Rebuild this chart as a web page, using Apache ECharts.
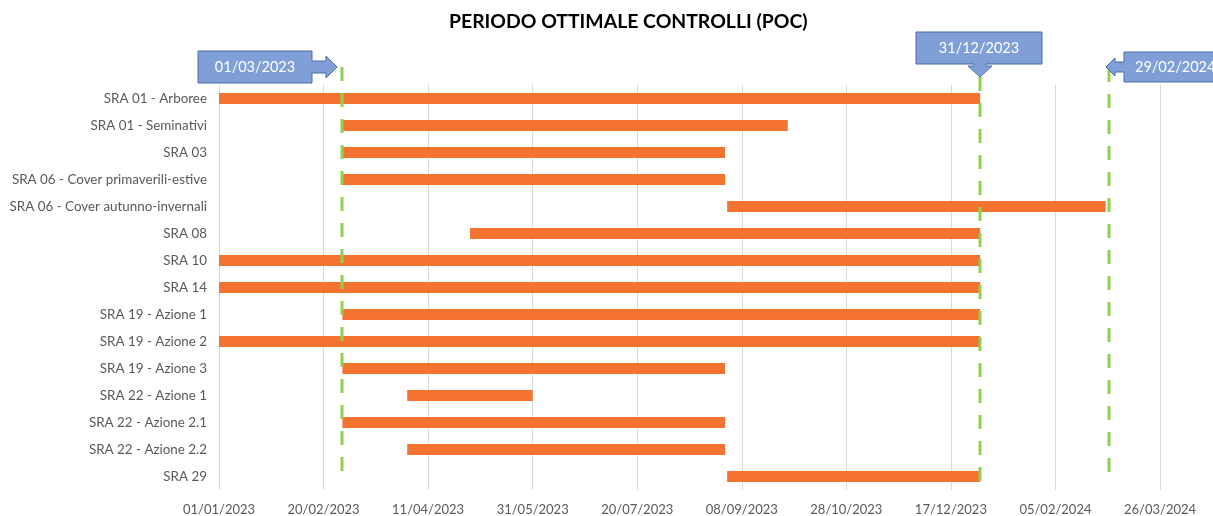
<!DOCTYPE html>
<html>
<head>
<meta charset="utf-8">
<script src="https://cdn.jsdelivr.net/npm/echarts@6/dist/echarts.min.js"></script>
<style>html,body{margin:0;padding:0;background:#fff}#c{width:1213px;height:516px}</style>
</head>
<body>
<div id="c"></div>
<script>
// ---- data ----
const categories = [
  'SRA 01 - Arboree',
  'SRA 01 - Seminativi',
  'SRA 03',
  'SRA 06 - Cover primaverili-estive',
  'SRA 06 - Cover autunno-invernali',
  'SRA 08',
  'SRA 10',
  'SRA 14',
  'SRA 19 - Azione 1',
  'SRA 19 - Azione 2',
  'SRA 19 - Azione 3',
  'SRA 22 - Azione 1',
  'SRA 22 - Azione 2.1',
  'SRA 22 - Azione 2.2',
  'SRA 29'
];
const startDates = [
  '2023-01-01','2023-03-01','2023-03-01','2023-03-01','2023-09-01',
  '2023-05-01','2023-01-01','2023-01-01','2023-03-01','2023-01-01',
  '2023-03-01','2023-04-01','2023-03-01','2023-04-01','2023-09-01'
];
const endDates = [
  '2023-12-31','2023-09-30','2023-08-31','2023-08-31','2024-02-29',
  '2023-12-31','2023-12-31','2023-12-31','2023-12-31','2023-12-31',
  '2023-08-31','2023-05-31','2023-08-31','2023-08-31','2023-12-31'
];
const markerDates = ['2023-03-01','2023-12-31','2024-02-29'];
const markerLabels = ['01/03/2023','31/12/2023','29/02/2024'];
const axisStart = '2023-01-01';
const axisEnd = '2024-03-26';
const tickStepDays = 50;

// ---- helpers ----
const DAY = 86400000;
function toUTC(s){const p=s.split('-').map(Number);return Date.UTC(p[0],p[1]-1,p[2]);}
const base = toUTC(axisStart);
function dayOf(s){return Math.round((toUTC(s)-base)/DAY);}
function fmt(v){const d=new Date(base+v*DAY);const dd=String(d.getUTCDate()).padStart(2,'0');const mm=String(d.getUTCMonth()+1).padStart(2,'0');return dd+'/'+mm+'/'+d.getUTCFullYear();}

const startVals = startDates.map(dayOf);
const durVals = endDates.map((e,i)=>dayOf(e)-startVals[i]);
const markerData = markerDates.map((d,i)=>[dayOf(d), 0, markerLabels[i]]);

const FONT = 'Lato';
const BOX_FILL = '#7F9FD6';
const BOX_STROKE = '#4A6DA7';

function renderMarker(params, api){
  const cs = params.coordSys;
  const x = Math.round(api.coord([api.value(0), 0])[0]);
  const label = markerLabels[params.dataIndex];
  const idx = params.dataIndex;
  const top = cs.y, bottom = cs.y + cs.height;
  let lineTop, pts, tx, ty, align;
  if (idx === 0) {
    const cy = top - 18;
    const bx0 = x - 144, bx1 = x - 30, hx = x - 16, tip = x - 5;
    pts = [[bx0,cy-16],[bx1,cy-16],[bx1,cy-6],[hx,cy-6],[hx,cy-11],[tip,cy],[hx,cy+11],[hx,cy+6],[bx1,cy+6],[bx1,cy+16],[bx0,cy+16]];
    tx = (bx0+bx1)/2; ty = cy; align='center';
    lineTop = top - 18;
  } else if (idx === 1) {
    const by0 = top - 53, by1 = top - 21, hy = top - 19, tip = top - 8;
    pts = [[x-64,by0],[x+62,by0],[x+62,by1],[x+6,by1],[x+6,hy],[x+12,hy],[x,tip],[x-12,hy],[x-6,hy],[x-6,by1],[x-64,by1]];
    tx = x - 1; ty = (by0+by1)/2; align='center';
    lineTop = tip;
  } else {
    const cy = top - 18;
    const tip = x, hx = x + 9, bx0 = x + 18, bx1 = x + 140;
    pts = [[tip,cy],[hx,cy-9],[hx,cy-5],[bx0,cy-5],[bx0,cy-15],[bx1,cy-15],[bx1,cy+15],[bx0,cy+15],[bx0,cy+5],[hx,cy+5],[hx,cy+9]];
    tx = bx0 + 11; ty = cy; align='left';
    lineTop = top - 17;
  }
  const lx = idx === 2 ? x + 3 : x;
  return {
    type: 'group',
    children: [
      {type:'line', shape:{x1:lx,y1:lineTop,x2:lx,y2:bottom-9}, style:{stroke:'#92D050',lineWidth:3,lineDash:[14,12]}},
      {type:'polygon', shape:{points:pts}, style:{fill:BOX_FILL,stroke:BOX_STROKE,lineWidth:1}},
      {type:'text', style:{x:tx,y:ty,text:label,fill:'#fff',font:'14.5px '+FONT,align:align,verticalAlign:'middle'}}
    ]
  };
}

const chart = echarts.init(document.getElementById('c'), null, {renderer:'canvas'});
chart.setOption({
  animation:false,
  textStyle:{fontFamily:FONT},
  graphic:[{type:'text', left:449, top:12, style:{text:'PERIODO OTTIMALE CONTROLLI (POC)', font:'bold 19.4px '+FONT, fill:'#000'}}],
  grid:{left:219,right:53,top:85,bottom:26,containLabel:false},
  xAxis:{
    type:'value', min:0, max:dayOf(axisEnd), interval:tickStepDays,
    axisLine:{show:false}, axisTick:{show:false},
    splitLine:{show:true,lineStyle:{color:'#D9D9D9',width:1}},
    axisLabel:{formatter:fmt,color:'#595959',fontSize:13,margin:13,fontFamily:FONT}
  },
  yAxis:{
    type:'category', data:categories, inverse:true,
    axisLine:{show:false}, axisTick:{show:false}, splitLine:{show:false},
    axisLabel:{color:'#595959',fontSize:13.4,margin:12,fontFamily:FONT}
  },
  series:[
    {type:'bar', stack:'g', data:startVals, barWidth:11, itemStyle:{color:'rgba(0,0,0,0)'}, silent:true},
    {type:'bar', stack:'g', data:durVals, barWidth:11, itemStyle:{color:'#F47330'}},
    {type:'custom', data:markerData, renderItem:renderMarker, clip:false, z:10, encode:{x:0,y:1}}
  ]
});
</script>
</body>
</html>
